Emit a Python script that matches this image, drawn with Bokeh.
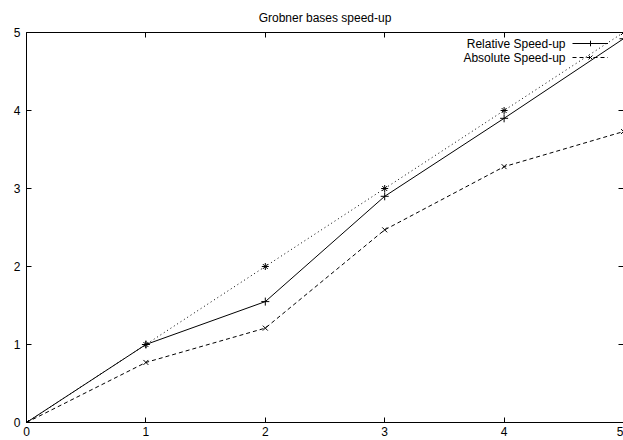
from bokeh.plotting import figure
from bokeh.models import Range1d, LinearAxis, FixedTicker, Legend, LegendItem, Label
from bokeh.embed import file_html
from bokeh.resources import INLINE

# data
procs = [0, 1, 2, 3, 4, 5]
relative = [0, 1.0, 1.55, 2.90, 3.90, 4.92]
absolute = [0, 0.77, 1.21, 2.47, 3.28, 3.73]
ideal = [0, 1, 2, 3, 4, 5]
ticks = [0, 1, 2, 3, 4, 5]
title_text = "Grobner bases speed-up"
series_labels = ["Relative Speed-up", "Absolute Speed-up"]

FONT = "Liberation Sans"

p = figure(width=623, height=440, output_backend="svg", toolbar_location=None,
           x_range=Range1d(0, 5), y_range=Range1d(0, 5),
           min_border_left=26, min_border_right=0, min_border_top=32, min_border_bottom=18,
           x_axis_location=None, y_axis_location=None)
p.title.text = title_text
p.title.text_font = FONT
p.title.text_font_size = "12px"
p.title.text_font_style = "normal"
p.title.text_color = "black"
p.title.align = "center"
p.title.vertical_align = "top"
p.title.standoff = 12
p.title.offset = 0
p.grid.visible = False
p.outline_line_color = None
p.background_fill_color = "white"
p.border_fill_color = "white"

def style_axis(ax, labels=True):
    ax.ticker = FixedTicker(ticks=ticks)
    ax.major_tick_in = 5
    ax.major_tick_out = 0
    ax.minor_tick_line_color = None
    ax.axis_line_color = "black"
    ax.axis_line_width = 1
    ax.major_tick_line_color = "black"
    ax.major_label_text_font = FONT
    ax.major_label_text_font_size = "12px"
    ax.major_label_text_color = "black"
    if not labels:
        ax.major_label_overrides = {t: "" for t in ticks}
        ax.major_label_standoff = 0

bottom = LinearAxis()
style_axis(bottom)
bottom.major_label_standoff = 4
left = LinearAxis()
style_axis(left)
left.major_label_standoff = 6
top = LinearAxis()
style_axis(top, labels=False)
right = LinearAxis()
style_axis(right, labels=False)
right.axis_line_color = None
p.add_layout(bottom, "below")
p.add_layout(left, "left")
p.add_layout(top, "above")
p.add_layout(right, "right")

# ideal (no legend)
p.line(procs, ideal, line_color="black", line_width=1, line_dash="1 3")
p.scatter(procs, ideal, marker="asterisk", size=7, line_color="black", line_width=1)

r1 = p.line(procs, relative, line_color="black", line_width=1)
s1 = p.scatter(procs, relative, marker="cross", size=8, line_color="black", line_width=1)
r2 = p.line(procs, absolute, line_color="black", line_width=1, line_dash="4 3")
s2 = p.scatter(procs, absolute, marker="x", size=7, line_color="black", line_width=1)

legend = Legend(items=[LegendItem(label=" ", renderers=[r1, s1]),
                       LegendItem(label=" ", renderers=[r2, s2])],
                location=(546, 358), glyph_width=36, glyph_height=14, label_height=14,
                label_width=0, label_standoff=0, spacing=0, padding=0, margin=0,
                border_line_color=None, background_fill_alpha=0,
                label_text_font=FONT, label_text_font_size="12px")
p.add_layout(legend, "center")

for i, txt in enumerate(series_labels):
    p.add_layout(Label(x=539, y=379 - 14 * i, x_units="screen", y_units="screen",
                       text=txt, text_align="right", text_baseline="middle",
                       text_font=FONT, text_font_size="12px", text_color="black"))

open("out.html", "w").write(file_html(p, INLINE))
